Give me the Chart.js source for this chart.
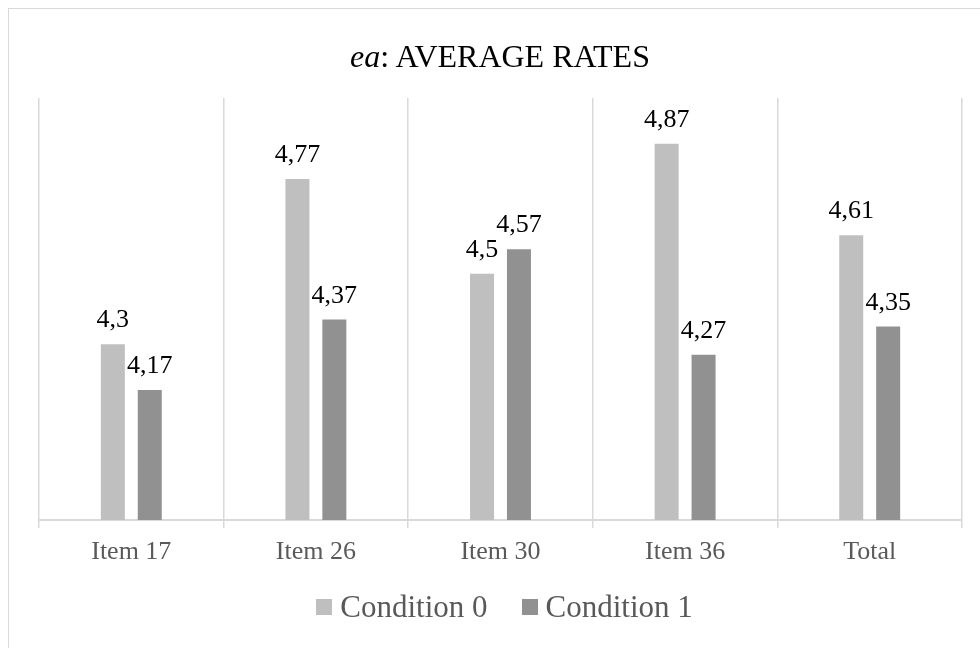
<!DOCTYPE html>
<html>
<head>
<meta charset="utf-8">
<script src="https://cdn.jsdelivr.net/npm/chart.js@4/dist/chart.umd.min.js"></script>
<style>
  html, body { margin: 0; padding: 0; background: #ffffff; }
  #wrap { position: relative; width: 980px; height: 648px; overflow: hidden;
          font-family: "Liberation Serif", "Times New Roman", serif; }
  #frame { position: absolute; left: 8px; top: 8px; width: 1000px; height: 700px;
           border: 1px solid #d9d9d9; box-sizing: border-box; }
  #title { position: absolute; left: 0; top: 36px; width: 1000px; text-align: center;
           font-size: 32px; color: #000000; line-height: 40px; white-space: nowrap; }
  #chart { position: absolute; left: 0; top: 0; }
  #legend { position: absolute; left: 0; top: 587px; width: 1009px; height: 40px;
            display: flex; justify-content: center; align-items: center;
            font-size: 31px; color: #595959; white-space: nowrap; }
  #legend .item { display: flex; align-items: center; margin: 0 17px; }
  #legend .box { width: 16px; height: 16px; margin-right: 8px; }
</style>
</head>
<body>
<div id="wrap">
  <div id="frame"></div>
  <canvas id="chart" width="980" height="648"></canvas>
  <div id="title"><i>ea</i>: AVERAGE RATES</div>
  <div id="legend"></div>
</div>
<script>
// Average rates per item, by condition
const categories = ["Item 17", "Item 26", "Item 30", "Item 36", "Total"];
const seriesNames = ["Condition 0", "Condition 1"];
const condition0 = [4.3, 4.77, 4.5, 4.87, 4.61];
const condition1 = [4.17, 4.37, 4.57, 4.27, 4.35];
const yMin = 3.8;
const yMax = 5.0;

const serif = "'Liberation Serif', 'Times New Roman', serif";
const fmt = v => String(v).replace('.', ',');

// Writes each bar's value just above it, with a decimal comma
const valueLabels = {
  id: 'valueLabels',
  afterDatasetsDraw(chart) {
    const ctx = chart.ctx;
    ctx.save();
    ctx.font = "26px " + serif;
    ctx.fillStyle = "#000000";
    ctx.textAlign = "center";
    ctx.textBaseline = "alphabetic";
    chart.data.datasets.forEach((ds, i) => {
      chart.getDatasetMeta(i).data.forEach((bar, j) => {
        ctx.fillText(fmt(ds.data[j]), bar.x, bar.y - 17);
      });
    });
    ctx.restore();
  }
};

const chart = new Chart(document.getElementById('chart'), {
  type: 'bar',
  data: {
    labels: categories,
    datasets: [
      { label: seriesNames[0], data: condition0, backgroundColor: '#bfbfbf',
        categoryPercentage: 0.40, barPercentage: 0.65 },
      { label: seriesNames[1], data: condition1, backgroundColor: '#919191',
        categoryPercentage: 0.40, barPercentage: 0.65 }
    ]
  },
  options: {
    responsive: false,
    animation: false,
    layout: { padding: { left: 39, right: 18, top: 98, bottom: 66 } },
    plugins: {
      title: { display: false },
      tooltip: { enabled: false },
      legend: { display: false }
    },
    scales: {
      x: {
        grid: { display: true, offset: true, color: '#d9d9d9', lineWidth: 1.5, tickLength: 8 },
        border: { display: true, color: '#d9d9d9', width: 2 },
        ticks: { color: '#595959', font: { family: serif, size: 26 }, padding: 9 },
        afterFit(scale) { scale.height = 62; }
      },
      y: {
        display: false,
        min: yMin,
        max: yMax
      }
    }
  },
  plugins: [valueLabels]
});

// Legend entries built from the chart's own datasets
const legendEl = document.getElementById('legend');
chart.data.datasets.forEach(ds => {
  const item = document.createElement('span');
  item.className = 'item';
  const box = document.createElement('span');
  box.className = 'box';
  box.style.background = ds.backgroundColor;
  const txt = document.createElement('span');
  txt.textContent = ds.label;
  item.appendChild(box);
  item.appendChild(txt);
  legendEl.appendChild(item);
});
</script>
</body>
</html>
